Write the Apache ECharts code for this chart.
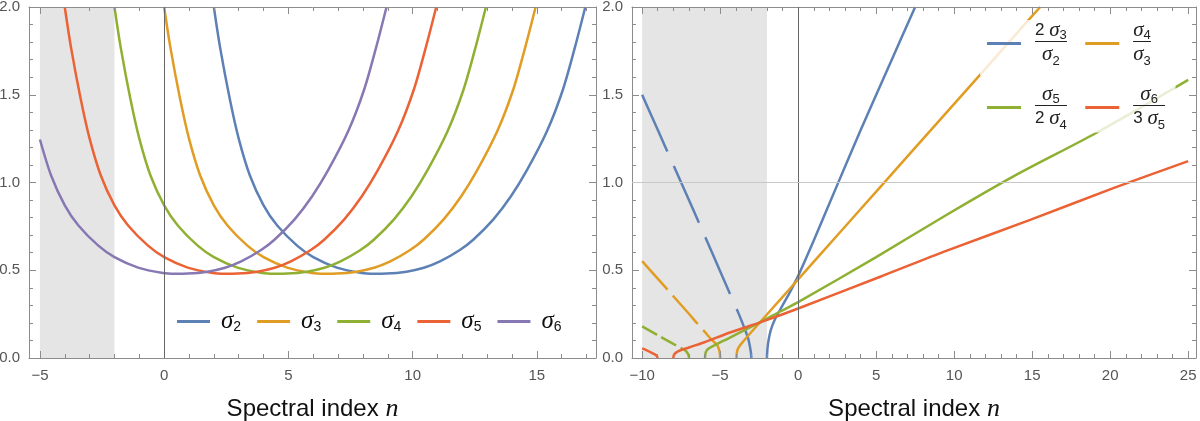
<!DOCTYPE html>
<html>
<head>
<meta charset="utf-8">
<script src="https://cdn.jsdelivr.net/npm/echarts@6/dist/echarts.min.js"></script>
<style>
  html, body { margin: 0; padding: 0; background: #fff; }
  #main { width: 1200px; height: 421px; }
</style>
</head>
<body>
<div id="main"></div>
<script>
// ---- left panel: sigma_j against spectral index n ([n, value])
var sigma2 = [[2.0,2.0],[2.25,1.77],[2.65,1.47],[3.0,1.25],[3.45,1.04],[4.0,0.87],[4.55,0.755],[5.35,0.64],[6.0,0.575],[6.95,0.515],[7.95,0.484],[8.45,0.48],[8.95,0.481],[9.75,0.492],[10.45,0.514],[11.1,0.55],[11.9,0.615],[12.45,0.675],[13.25,0.79],[13.95,0.92],[14.6,1.07],[15.4,1.29],[16.05,1.53],[16.55,1.78],[16.95,2.0]];
var sigma3 = [[0.0,2.0],[0.25,1.77],[0.65,1.47],[1.0,1.25],[1.45,1.04],[2.0,0.87],[2.55,0.755],[3.35,0.64],[4.0,0.575],[4.95,0.515],[5.95,0.484],[6.45,0.48],[6.95,0.481],[7.75,0.492],[8.45,0.514],[9.1,0.55],[9.9,0.615],[10.45,0.675],[11.25,0.79],[11.95,0.92],[12.6,1.07],[13.4,1.29],[14.05,1.53],[14.55,1.78],[14.95,2.0]];
var sigma4 = [[-2.0,2.0],[-1.75,1.77],[-1.35,1.47],[-1.0,1.25],[-0.55,1.04],[0.0,0.87],[0.55,0.755],[1.35,0.64],[2.0,0.575],[2.95,0.515],[3.95,0.484],[4.45,0.48],[4.95,0.481],[5.75,0.492],[6.45,0.514],[7.1,0.55],[7.9,0.615],[8.45,0.675],[9.25,0.79],[9.95,0.92],[10.6,1.07],[11.4,1.29],[12.05,1.53],[12.55,1.78],[12.95,2.0]];
var sigma5 = [[-4.0,2.0],[-3.75,1.77],[-3.35,1.47],[-3.0,1.25],[-2.55,1.04],[-2.0,0.87],[-1.45,0.755],[-0.65,0.64],[0.0,0.575],[0.95,0.515],[1.95,0.484],[2.45,0.48],[2.95,0.481],[3.75,0.492],[4.45,0.514],[5.1,0.55],[5.9,0.615],[6.45,0.675],[7.25,0.79],[7.95,0.92],[8.6,1.07],[9.4,1.29],[10.05,1.53],[10.55,1.78],[10.95,2.0]];
var sigma6 = [[-5.0,1.245],[-4.55,1.04],[-4.0,0.87],[-3.45,0.755],[-2.65,0.64],[-2.0,0.575],[-1.05,0.515],[-0.05,0.484],[0.45,0.48],[0.95,0.481],[1.75,0.492],[2.45,0.514],[3.1,0.55],[3.9,0.615],[4.45,0.675],[5.25,0.79],[5.95,0.92],[6.6,1.07],[7.4,1.29],[8.05,1.53],[8.55,1.78],[8.95,2.0]];

// ---- right panel: ratios of sigmas (solid part, dashed part)
var ratio23 = [[-2.0,0],[-1.97,0.05],[-1.9,0.1],[-1.75,0.16],[-1.5,0.218],[-1.0,0.3],[-0.5,0.38],[0,0.468],[1,0.67],[2.5,0.985],[4,1.298],[6,1.7],[7.5,2.0]];
var ratio23neg = [[-10,1.5],[-9,1.3],[-8,1.1],[-7,0.9],[-6,0.698],[-5,0.495],[-4.4,0.372],[-3.8,0.25],[-3.4,0.16],[-3.2,0.11],[-3.08,0.06],[-3.02,0.025],[-3.0,0]];
var ratio34 = [[-3.95,0],[-3.93,0.03],[-3.85,0.055],[-3.6,0.086],[-3.0,0.148],[-2.0,0.248],[-1.15,0.333],[0,0.448],[2.5,0.698],[5.26,0.974],[7.39,1.187],[9.53,1.401],[11.67,1.615],[14.76,1.925],[15.52,2.0]];
var ratio34neg = [[-10,0.552],[-9,0.452],[-8,0.352],[-7,0.252],[-6.5,0.2],[-6,0.15],[-5.5,0.1],[-5.2,0.075],[-5.08,0.05],[-5.02,0.025],[-5.0,0]];
var ratio45 = [[-5.97,0],[-5.93,0.03],[-5.8,0.05],[-5.4,0.07],[-4.4,0.115],[-3.3,0.165],[-2.3,0.21],[-1.15,0.265],[0,0.318],[5,0.575],[9.5,0.815],[13.8,1.035],[19.15,1.285],[25,1.585]];
var ratio45neg = [[-10,0.18],[-9,0.13],[-8,0.08],[-7.5,0.056],[-7.2,0.04],[-7.07,0.025],[-7.01,0.01],[-7.0,0]];
var ratio56 = [[-8.0,0],[-7.95,0.02],[-7.7,0.038],[-7.0,0.06],[-6.0,0.09],[-4.36,0.145],[-2.3,0.207],[0,0.282],[5.26,0.463],[9.53,0.612],[14.87,0.787],[20.2,0.968],[25,1.122]];
var ratio56neg = [[-10,0.055],[-9.5,0.035],[-9.15,0.018],[-9.03,0.006],[-9.0,0]];

// ticks
var leftMajor = [-5, 0, 5, 10, 15];
var leftMinor = [-5,-4,-3,-2,-1,0,1,2,3,4,5,6,7,8,9,10,11,12,13,14,15,16,17];
var rightMajor = [-10, -5, 0, 5, 10, 15, 20, 25];
var rightMinor = [-10,-9,-8,-7,-6,-5,-4,-3,-2,-1,0,1,2,3,4,5,6,7,8,9,10,11,12,13,14,15,16,17,18,19,20,21,22,23,24,25];
var yTicks = ['0.0', '0.5', '1.0', '1.5', '2.0'];

var leftNames = ['s2', 's3', 's4', 's5', 's6'];
var leftLabels = {s2: '{s|σ}{b|2}', s3: '{s|σ}{b|3}', s4: '{s|σ}{b|4}', s5: '{s|σ}{b|5}', s6: '{s|σ}{b|6}'};
var rightLabels = {
    r23: '{n1|2 }{s1|σ}{b1|3}\n{hr|}\n{s2|σ}{b2|2}',
    r34: '{s1|σ}{b1|4}\n{hr|}\n{s2|σ}{b2|3}',
    r45: '{s1|σ}{b1|5}\n{hr|}\n{n2|2 }{s2|σ}{b2|4}',
    r56: '{s1|σ}{b1|6}\n{hr|}\n{n2|3 }{s2|σ}{b2|5}'
};

var BLUE = '#5E81B5', ORANGE = '#E19C24', GREEN = '#8FB032', RED = '#EB6235', PURPLE = '#8778B3';
var FRAME = '#8c8c8c';
var LABEL = '#555';

function minus(v) {
    return v < 0 ? '\u2212' + (-v) : String(v);
}

function xAxes(grid, min, max, major, minor) {
    var base = {
        type: 'value', gridIndex: grid, min: min, max: max, z: 3,
        splitLine: {show: false}
    };
    return [
        Object.assign({}, base, {
            position: 'bottom',
            axisLine: {show: true, onZero: false, lineStyle: {color: FRAME}},
            axisTick: {show: true, inside: true, length: 7, customValues: major, lineStyle: {color: FRAME}},
            axisLabel: {customValues: major, formatter: minus, color: LABEL, fontSize: 15, fontFamily: 'Liberation Sans', margin: 10},
            name: '{a|Spectral index }{b|n}',
            nameLocation: 'middle',
            nameGap: 37,
            nameTextStyle: {
                rich: {
                    a: {fontFamily: 'Liberation Sans', fontSize: 24, color: '#111', lineHeight: 28},
                    b: {fontFamily: 'Liberation Serif', fontStyle: 'italic', fontSize: 26, color: '#111', lineHeight: 28}
                }
            }
        }),
        Object.assign({}, base, {
            position: 'bottom',
            axisLine: {show: false, onZero: false},
            axisTick: {show: true, inside: true, length: 4, customValues: minor, lineStyle: {color: FRAME}},
            axisLabel: {show: false}
        }),
        Object.assign({}, base, {
            position: 'top',
            axisLine: {show: true, onZero: false, lineStyle: {color: FRAME}},
            axisTick: {show: true, inside: true, length: 7, customValues: major, lineStyle: {color: FRAME}},
            axisLabel: {show: false}
        }),
        Object.assign({}, base, {
            position: 'top',
            axisLine: {show: false, onZero: false},
            axisTick: {show: true, inside: true, length: 4, customValues: minor, lineStyle: {color: FRAME}},
            axisLabel: {show: false}
        })
    ];
}

function yAxes(grid) {
    var base = {
        type: 'value', gridIndex: grid, min: 0, max: 2, interval: 0.5, z: 3,
        splitLine: {show: false},
        axisLine: {show: true, onZero: false, lineStyle: {color: FRAME}},
        axisTick: {show: true, inside: true, length: 7, lineStyle: {color: FRAME}},
        minorTick: {show: true, splitNumber: 5, length: 4, lineStyle: {color: FRAME}}
    };
    return [
        Object.assign({}, base, {
            position: 'left',
            axisLabel: {
                color: LABEL, fontSize: 15, fontFamily: 'Liberation Sans', margin: 9,
                formatter: function (v) { return yTicks[Math.round(v * 2)]; }
            }
        }),
        Object.assign({}, base, {position: 'right', axisLabel: {show: false}})
    ];
}

function curve(name, data, color, xi, yi, dash) {
    return {
        name: name, type: 'line', data: data,
        xAxisIndex: xi, yAxisIndex: yi,
        showSymbol: false, symbol: 'none', smooth: 0.3,
        z: 2,
        lineStyle: {color: color, width: 2.5, type: dash || 'solid'},
        itemStyle: {color: color}
    };
}

function helper(xi, yi, shadeFrom, withOne) {
    var lines = [{xAxis: 0, lineStyle: {color: '#666', width: 1}}];
    if (withOne) lines.push({yAxis: 1, lineStyle: {color: '#c8c8c8', width: 1}});
    return {
        type: 'line', data: [], xAxisIndex: xi, yAxisIndex: yi, z: 1, silent: true,
        markArea: {silent: true, itemStyle: {color: '#e5e5e5'}, data: [[{xAxis: shadeFrom, yAxis: 0}, {xAxis: -2, yAxis: 2}]]},
        markLine: {silent: true, symbol: 'none', label: {show: false}, lineStyle: {type: 'solid'}, data: lines}
    };
}

var fracRich = {
    n1: {fontFamily: 'Liberation Sans', fontSize: 17, color: '#222', lineHeight: 22, align: 'center'},
    s1: {fontFamily: 'Liberation Serif', fontStyle: 'italic', fontSize: 21, color: '#222', lineHeight: 22, align: 'center'},
    b1: {fontFamily: 'Liberation Sans', fontSize: 13, color: '#222', lineHeight: 13, verticalAlign: 'bottom', align: 'center'},
    hr: {width: '100%', height: 0, borderWidth: 1, borderColor: '#222'},
    n2: {fontFamily: 'Liberation Sans', fontSize: 17, color: '#222', lineHeight: 26, align: 'center'},
    s2: {fontFamily: 'Liberation Serif', fontStyle: 'italic', fontSize: 21, color: '#222', lineHeight: 26, align: 'center'},
    b2: {fontFamily: 'Liberation Sans', fontSize: 13, color: '#222', lineHeight: 15, verticalAlign: 'bottom', align: 'center'}
};

function rightLegend(names, top, pad) {
    return {
        data: names, left: 980, top: top, width: 220, orient: 'horizontal',
        icon: 'rect', itemWidth: 34, itemHeight: 3, itemGap: 18,
        padding: pad, backgroundColor: 'rgba(255,255,255,0.8)',
        selectedMode: false,
        formatter: function (name) { return rightLabels[name]; },
        textStyle: {padding: [0, 0, 0, 9], rich: fracRich}
    };
}

var chart = echarts.init(document.getElementById('main'));
var option = {
    animation: false,
    backgroundColor: '#fff',
    grid: [
        {left: 29, top: 7, width: 567, height: 351, outerBoundsMode: 'none', containLabel: false},
        {left: 632, top: 7, width: 564, height: 351, outerBoundsMode: 'none', containLabel: false}
    ],
    xAxis: xAxes(0, -5.44, 17.38, leftMajor, leftMinor).concat(xAxes(1, -10.65, 25.5, rightMajor, rightMinor)),
    yAxis: yAxes(0).concat(yAxes(1)),
    legend: [
        {
            data: leftNames, left: 177, top: 309, orient: 'horizontal',
            icon: 'rect', itemWidth: 33, itemHeight: 3, itemGap: 16, padding: 0,
            selectedMode: false,
            formatter: function (name) { return leftLabels[name]; },
            textStyle: {
                padding: [0, 0, 0, 6],
                rich: {
                    s: {fontFamily: 'Liberation Serif', fontStyle: 'italic', fontSize: 25, color: '#111', lineHeight: 26},
                    b: {fontFamily: 'Liberation Sans', fontSize: 14, color: '#111', lineHeight: 14, verticalAlign: 'bottom'}
                }
            }
        },
        rightLegend(['r23', 'r34'], 20, [0, 10, 8, 7]),
        rightLegend(['r45', 'r56'], 77, [7, 10, 1, 7])
    ],
    series: [
        helper(0, 0, -5, false),
        curve('s2', sigma2, BLUE, 0, 0),
        curve('s3', sigma3, ORANGE, 0, 0),
        curve('s4', sigma4, GREEN, 0, 0),
        curve('s5', sigma5, RED, 0, 0),
        curve('s6', sigma6, PURPLE, 0, 0),
        helper(4, 2, -10, true),
        curve('r23', ratio23, BLUE, 4, 2),
        curve('r23 neg', ratio23neg, BLUE, 4, 2, [62, 16]),
        curve('r34', ratio34, ORANGE, 4, 2),
        curve('r34 neg', ratio34neg, ORANGE, 4, 2, [38, 8]),
        curve('r45', ratio45, GREEN, 4, 2),
        curve('r45 neg', ratio45neg, GREEN, 4, 2, [17, 5]),
        curve('r56', ratio56, RED, 4, 2),
        curve('r56 neg', ratio56neg, RED, 4, 2, [20, 4])
    ]
};
chart.setOption(option);
</script>
</body>
</html>
